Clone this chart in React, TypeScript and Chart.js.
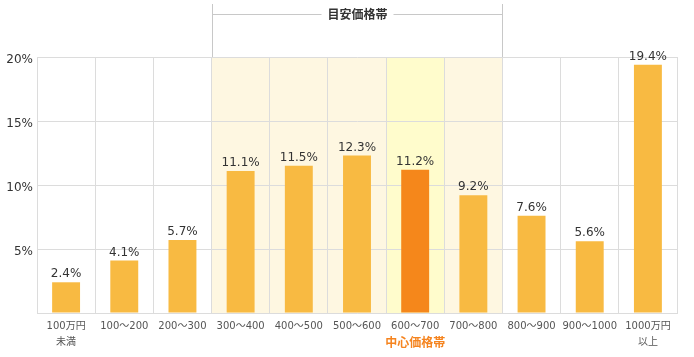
import React, { useEffect, useRef } from "react";
import { Chart, registerables } from "chart.js";

Chart.register(...registerables);

const categories: (string | string[])[] = [
  ["100万円", "未満"],
  "100～200",
  "200～300",
  "300～400",
  "400～500",
  "500～600",
  "600～700",
  "700～800",
  "800～900",
  "900～1000",
  ["1000万円", "以上"],
];
const shares = [2.4, 4.1, 5.7, 11.1, 11.5, 12.3, 11.2, 9.2, 7.6, 5.6, 19.4];
const yTicks = [0, 5, 10, 15, 20];
const targetRange = [3, 7]; // 目安価格帯 first..last index
const centerIndex = 6; // 中心価格帯
const targetTitle = "目安価格帯";
const centerTitle = "中心価格帯";

const FONT = "'DejaVu Sans', 'Noto Sans CJK JP', sans-serif";
const JFONT = "'Noto Sans CJK JP', sans-serif";

const overlayPlugin = {
  id: "overlay",
  beforeDraw(chart: any) {
    const { ctx, chartArea, scales } = chart;
    const x = scales.x;
    const w = x.width / categories.length;
    ctx.save();
    for (let i = targetRange[0]; i <= targetRange[1]; i++) {
      const cx = x.getPixelForValue(i);
      ctx.fillStyle = i === centerIndex ? "#FFFCCC" : "#FEF7E1";
      ctx.fillRect(cx - w / 2, chartArea.top, w, chartArea.bottom - chartArea.top);
    }
    ctx.restore();
  },
  afterDraw(chart: any) {
    const { ctx, chartArea, scales } = chart;
    const x = scales.x;
    const w = x.width / categories.length;
    ctx.save();
    // value labels
    const meta = chart.getDatasetMeta(0);
    ctx.font = `12px ${FONT}`;
    ctx.fillStyle = "#333";
    ctx.textAlign = "center";
    ctx.textBaseline = "bottom";
    meta.data.forEach((bar: any, i: number) => {
      ctx.fillText(shares[i].toFixed(1) + "%", bar.x, bar.y - 2);
    });
    // target range bracket
    const left = Math.round(x.getPixelForValue(targetRange[0]) - w / 2) + 0.5;
    const right = Math.round(x.getPixelForValue(targetRange[1]) + w / 2) + 0.5;
    const lineY = 14.5;
    ctx.font = `bold 12px ${JFONT}`;
    const tw = ctx.measureText(targetTitle).width;
    const mid = (left + right) / 2;
    ctx.strokeStyle = "#C8C8C8";
    ctx.lineWidth = 1;
    ctx.beginPath();
    ctx.moveTo(left, 4);
    ctx.lineTo(left, chartArea.top);
    ctx.moveTo(right, 4);
    ctx.lineTo(right, chartArea.top);
    ctx.moveTo(left, lineY);
    ctx.lineTo(mid - tw / 2 - 6, lineY);
    ctx.moveTo(mid + tw / 2 + 6, lineY);
    ctx.lineTo(right, lineY);
    ctx.stroke();
    ctx.fillStyle = "#333";
    ctx.textBaseline = "middle";
    ctx.fillText(targetTitle, mid, lineY);
    // center label
    ctx.fillStyle = "#F5841F";
    ctx.font = `bold 12px ${JFONT}`;
    ctx.fillText(centerTitle, x.getPixelForValue(centerIndex), 342);
    ctx.restore();
  },
};

export default function App() {
  const ref = useRef<HTMLCanvasElement>(null);
  useEffect(() => {
    if (!ref.current) return;
    const chart = new Chart(ref.current, {
      type: "bar",
      data: {
        labels: categories,
        datasets: [
          {
            data: shares,
            backgroundColor: shares.map((_, i) => (i === centerIndex ? "#F5871B" : "#F8BA42")),
            barPercentage: 0.48,
            categoryPercentage: 1,
          },
        ],
      },
      options: {
        animation: false,
        responsive: true,
        maintainAspectRatio: false,
        layout: { padding: { top: 57, right: 17, left: 0, bottom: 0 } },
        plugins: { legend: { display: false }, tooltip: { enabled: false } },
        scales: {
          x: {
            grid: { color: "#DCDCDC", offset: true, drawTicks: false },
            border: { color: "#DCDCDC" },
            ticks: {
              color: "#555",
              font: { family: FONT, size: 10, lineHeight: 1.6 },
              padding: 5,
              maxRotation: 0,
              autoSkip: false,
            },
            afterFit(scale: any) {
              scale.height = 44;
            },
          },
          y: {
            min: yTicks[0],
            max: yTicks[yTicks.length - 1],
            afterBuildTicks(scale: any) {
              scale.ticks = yTicks.map((v) => ({ value: v }));
            },
            grid: { color: "#DCDCDC", drawTicks: false },
            border: { color: "#DCDCDC" },
            ticks: {
              color: "#333",
              font: { family: FONT, size: 12 },
              padding: 4,
              labelOffset: 3,
              callback: (v: any) => (v === 0 ? "" : v + "%"),
            },
            afterFit(scale: any) {
              scale.width = 37;
            },
          },
        },
      },
      plugins: [overlayPlugin],
    });
    return () => chart.destroy();
  }, []);
  return (
    <div style={{ position: "absolute", left: 0, top: 0, width: 694, height: 357 }}>
      <canvas ref={ref} />
    </div>
  );
}
